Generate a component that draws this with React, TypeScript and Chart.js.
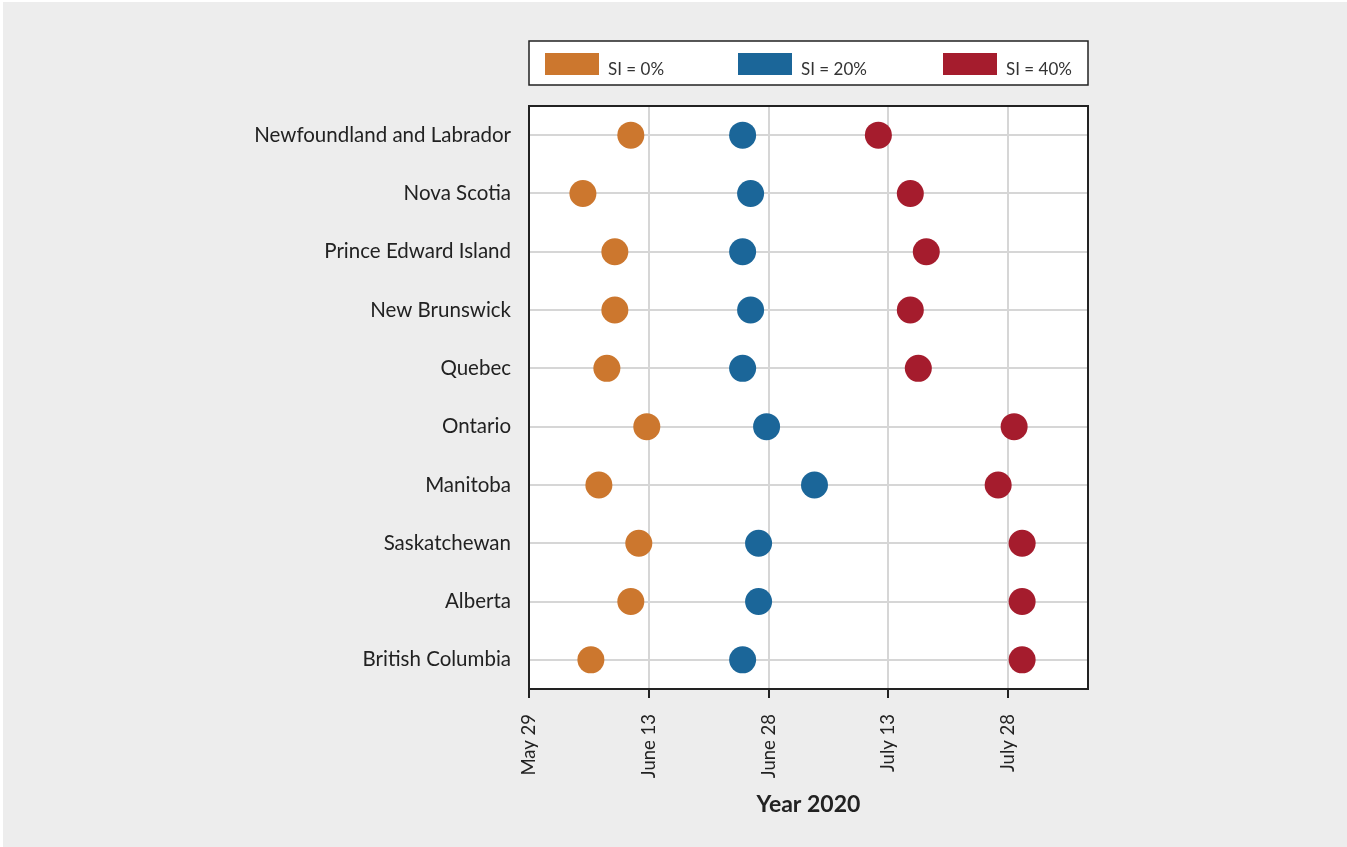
import React, { useEffect, useRef } from 'react';
import { Chart, registerables } from 'chart.js';

Chart.register(...registerables);

// Categories (top to bottom)
const provinces = [
  'Newfoundland and Labrador',
  'Nova Scotia',
  'Prince Edward Island',
  'New Brunswick',
  'Quebec',
  'Ontario',
  'Manitoba',
  'Saskatchewan',
  'Alberta',
  'British Columbia',
];

// Values: days after May 29, 2020
const si0 = [12.75, 6.75, 10.75, 10.75, 9.75, 14.75, 8.75, 13.75, 12.75, 7.75];
const si20 = [26.75, 27.75, 26.75, 27.75, 26.75, 29.75, 35.75, 28.75, 28.75, 26.75];
const si40 = [43.75, 47.75, 49.75, 47.75, 48.75, 60.75, 58.75, 61.75, 61.75, 61.75];

const seriesNames = ['SI = 0%', 'SI = 20%', 'SI = 40%'];
const seriesColors = ['#cc772e', '#1b6699', '#a51c2d'];

const tickValues = [0, 15, 30, 45, 60];
const tickLabels = ['May 29', 'June 13', 'June 28', 'July 13', 'July 28'];
const xMin = 0;
const xMax = 70;
const xTitle = 'Year 2020';

const FONT = 'Lato, "Source Sans Pro", "Noto Sans", sans-serif';
const TEXT = '#222222';
const GRID = '#d6d6d6';

const framePlugin = {
  id: 'frame',
  beforeDraw(chart: any) {
    const { ctx, chartArea: a, width, height } = chart;
    ctx.save();
    ctx.fillStyle = '#ffffff';
    ctx.fillRect(0, 0, width, height);
    ctx.fillStyle = '#ededed';
    ctx.fillRect(3, 2, width - 3, height - 2);
    ctx.fillStyle = '#ffffff';
    ctx.fillRect(a.left, a.top, a.right - a.left, a.bottom - a.top);
    ctx.restore();
  },
  afterDraw(chart: any) {
    const { ctx, chartArea: a } = chart;
    ctx.save();
    ctx.strokeStyle = TEXT;
    ctx.lineWidth = 2;
    ctx.strokeRect(a.left, a.top, a.right - a.left, a.bottom - a.top);

    // legend box
    const boxTop = 41;
    const boxH = 44;
    ctx.fillStyle = '#ffffff';
    ctx.fillRect(a.left, boxTop, a.right - a.left, boxH);
    ctx.lineWidth = 1.5;
    ctx.strokeRect(a.left, boxTop, a.right - a.left, boxH);
    const offsets = [16, 209, 414];
    ctx.font = `17px ${FONT}`;
    ctx.textBaseline = 'alphabetic';
    ctx.textAlign = 'left';
    seriesNames.forEach((name, i) => {
      const x = a.left + offsets[i];
      ctx.fillStyle = seriesColors[i];
      ctx.fillRect(x, 53, 54, 22);
      ctx.fillStyle = '#333333';
      ctx.fillText(name, x + 63, 75);
    });
    ctx.restore();
  },
};

export default function App() {
  const ref = useRef<HTMLCanvasElement>(null);

  useEffect(() => {
    if (!ref.current) return;
    const series = [si0, si20, si40];
    const chart = new Chart(ref.current, {
      type: 'scatter',
      data: {
        datasets: series.map((vals, i) => ({
          label: seriesNames[i],
          data: vals.map((v, j) => ({ x: v, y: provinces[j] })) as any,
          backgroundColor: seriesColors[i],
          borderColor: seriesColors[i],
          borderWidth: 0,
          pointRadius: 13.5,
          pointHoverRadius: 13.5,
        })),
      },
      options: {
        responsive: false,
        animation: false,
        layout: { padding: { left: 0, right: 259, top: 106, bottom: 0 } },
        plugins: {
          legend: { display: false },
          tooltip: { enabled: false },
        },
        scales: {
          x: {
            type: 'linear',
            min: xMin,
            max: xMax,
            afterBuildTicks: (s: any) => {
              s.ticks = tickValues.map((v) => ({ value: v }));
            },
            afterFit: (s: any) => {
              s.height = 158;
            },
            ticks: {
              autoSkip: false,
              minRotation: 90,
              maxRotation: 90,
              padding: 16,
              color: TEXT,
              font: { family: FONT, size: 18.5 },
              callback: (_v: any, i: number) => tickLabels[i],
            },
            grid: { color: GRID, lineWidth: 2, tickColor: TEXT, tickLength: 9, tickWidth: 2 },
            border: { display: true, color: TEXT, width: 2 },
            title: {
              display: true,
              text: xTitle,
              color: TEXT,
              font: { family: FONT, size: 23, weight: 'bold' },
              padding: { top: 0, bottom: 29 },
            },
          },
          y: {
            type: 'category',
            labels: provinces,
            offset: true,
            afterFit: (s: any) => {
              s.width = 529;
            },
            ticks: {
              autoSkip: false,
              padding: 18,
              color: TEXT,
              font: { family: FONT, size: 20.5 },
            },
            grid: { color: GRID, lineWidth: 2, drawTicks: false },
            border: { display: true, color: TEXT, width: 2 },
          },
        },
      } as any,
      plugins: [framePlugin],
    });
    return () => chart.destroy();
  }, []);

  return (
    <canvas
      ref={ref}
      width={1347}
      height={847}
      style={{ position: 'absolute', left: 0, top: 0, display: 'block' }}
    />
  );
}
